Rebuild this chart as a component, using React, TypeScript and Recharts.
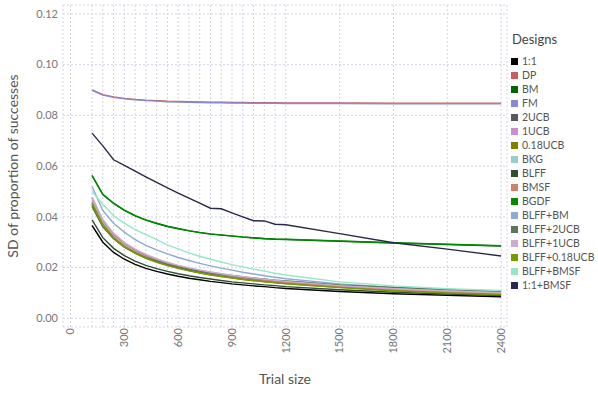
import React from 'react';
import { LineChart, Line, XAxis, YAxis, CartesianGrid, Legend } from 'recharts';

const FONT = 'Lato, "Open Sans", sans-serif';

const TRIAL_SIZES = [120, 180, 240, 300, 360, 420, 480, 540, 600, 660, 720, 780, 840, 900, 960, 1020, 1080, 1140, 1200, 1500, 1800, 2100, 2400];
const X_TICKS = [0, ...TRIAL_SIZES];
const X_LABELED = [0, 300, 600, 900, 1200, 1500, 1800, 2100, 2400];
const Y_TICKS = [0, 0.02, 0.04, 0.06, 0.08, 0.1, 0.12];

const SD_1_1 = [0.0366, 0.0300, 0.0260, 0.0233, 0.0213, 0.0197, 0.0185, 0.0175, 0.0166, 0.0158, 0.0152, 0.0146, 0.0141, 0.0136, 0.0132, 0.0128, 0.0125, 0.0121, 0.0118, 0.0106, 0.0097, 0.0091, 0.0085];
const SD_DP = [0.0900, 0.0882, 0.0873, 0.0867, 0.0863, 0.0860, 0.0858, 0.0856, 0.0855, 0.0854, 0.0853, 0.0852, 0.0852, 0.0851, 0.0851, 0.0850, 0.0850, 0.0850, 0.0849, 0.0849, 0.0848, 0.0848, 0.0848];
const SD_BM = [0.0562, 0.0488, 0.0453, 0.0426, 0.0404, 0.0387, 0.0374, 0.0362, 0.0353, 0.0345, 0.0338, 0.0332, 0.0328, 0.0324, 0.0320, 0.0317, 0.0314, 0.0312, 0.0311, 0.0304, 0.0297, 0.0291, 0.0285];
const SD_FM = [0.0899, 0.0880, 0.0871, 0.0865, 0.0861, 0.0858, 0.0856, 0.0854, 0.0853, 0.0852, 0.0851, 0.0850, 0.0850, 0.0849, 0.0849, 0.0848, 0.0848, 0.0848, 0.0847, 0.0847, 0.0846, 0.0846, 0.0846];
const SD_2UCB = [0.0445, 0.0363, 0.0315, 0.0281, 0.0257, 0.0238, 0.0223, 0.0210, 0.0199, 0.0190, 0.0182, 0.0175, 0.0168, 0.0162, 0.0157, 0.0153, 0.0148, 0.0144, 0.0141, 0.0126, 0.0115, 0.0106, 0.0100];
const SD_1UCB = [0.0462, 0.0377, 0.0326, 0.0291, 0.0265, 0.0246, 0.0230, 0.0216, 0.0205, 0.0195, 0.0187, 0.0179, 0.0173, 0.0167, 0.0161, 0.0157, 0.0152, 0.0148, 0.0144, 0.0129, 0.0117, 0.0108, 0.0101];
const SD_018UCB = [0.0455, 0.0370, 0.0319, 0.0284, 0.0258, 0.0239, 0.0223, 0.0209, 0.0198, 0.0188, 0.0180, 0.0172, 0.0166, 0.0160, 0.0154, 0.0150, 0.0145, 0.0141, 0.0137, 0.0122, 0.0110, 0.0101, 0.0094];
const SD_BKG = [0.0468, 0.0382, 0.0330, 0.0295, 0.0269, 0.0249, 0.0233, 0.0220, 0.0208, 0.0198, 0.0190, 0.0182, 0.0176, 0.0170, 0.0164, 0.0159, 0.0155, 0.0150, 0.0147, 0.0131, 0.0119, 0.0110, 0.0103];
const SD_BLFF = [0.0388, 0.0318, 0.0276, 0.0247, 0.0226, 0.0209, 0.0196, 0.0185, 0.0176, 0.0168, 0.0161, 0.0155, 0.0149, 0.0144, 0.0140, 0.0136, 0.0132, 0.0129, 0.0125, 0.0113, 0.0103, 0.0096, 0.0090];
const SD_BMSF = [0.0475, 0.0386, 0.0332, 0.0296, 0.0269, 0.0248, 0.0232, 0.0218, 0.0206, 0.0196, 0.0187, 0.0179, 0.0172, 0.0166, 0.0160, 0.0155, 0.0150, 0.0146, 0.0142, 0.0126, 0.0114, 0.0104, 0.0097];
const SD_BGDF = [0.0564, 0.0489, 0.0454, 0.0427, 0.0405, 0.0388, 0.0375, 0.0363, 0.0354, 0.0346, 0.0339, 0.0333, 0.0329, 0.0325, 0.0321, 0.0318, 0.0315, 0.0313, 0.0312, 0.0305, 0.0298, 0.0292, 0.0286];
const SD_BLFF_BM = [0.0520, 0.0425, 0.0375, 0.0340, 0.0310, 0.0288, 0.0270, 0.0254, 0.0240, 0.0228, 0.0217, 0.0207, 0.0198, 0.0190, 0.0182, 0.0175, 0.0168, 0.0162, 0.0156, 0.0136, 0.0122, 0.0112, 0.0104];
const SD_BLFF_2UCB = [0.0440, 0.0361, 0.0314, 0.0282, 0.0259, 0.0240, 0.0226, 0.0213, 0.0203, 0.0194, 0.0186, 0.0179, 0.0173, 0.0168, 0.0163, 0.0158, 0.0154, 0.0150, 0.0147, 0.0132, 0.0122, 0.0114, 0.0107];
const SD_BLFF_1UCB = [0.0478, 0.0389, 0.0336, 0.0299, 0.0273, 0.0252, 0.0235, 0.0221, 0.0209, 0.0199, 0.0190, 0.0183, 0.0176, 0.0169, 0.0164, 0.0159, 0.0154, 0.0150, 0.0146, 0.0129, 0.0117, 0.0108, 0.0101];
const SD_BLFF_018UCB = [0.0452, 0.0367, 0.0317, 0.0282, 0.0257, 0.0237, 0.0221, 0.0208, 0.0197, 0.0187, 0.0179, 0.0171, 0.0165, 0.0159, 0.0153, 0.0148, 0.0144, 0.0140, 0.0136, 0.0121, 0.0109, 0.0100, 0.0093];
const SD_BLFF_BMSF = [0.0500, 0.0450, 0.0405, 0.0375, 0.0350, 0.0330, 0.0310, 0.0290, 0.0274, 0.0258, 0.0245, 0.0233, 0.0222, 0.0212, 0.0203, 0.0194, 0.0186, 0.0178, 0.0171, 0.0144, 0.0128, 0.0117, 0.0110];
const SD_1_1_BMSF = [0.0730, 0.0680, 0.0625, 0.0603, 0.0580, 0.0558, 0.0536, 0.0514, 0.0494, 0.0474, 0.0454, 0.0434, 0.0432, 0.0416, 0.0400, 0.0385, 0.0384, 0.0371, 0.0369, 0.0334, 0.0298, 0.0273, 0.0246];

const SERIES = [
  { name: '1:1', color: '#000000', values: SD_1_1 },
  { name: 'DP', color: '#cd5c5c', values: SD_DP },
  { name: 'BM', color: '#006400', values: SD_BM },
  { name: 'FM', color: '#8a8ad2', values: SD_FM },
  { name: '2UCB', color: '#595959', values: SD_2UCB },
  { name: '1UCB', color: '#cd8bd0', values: SD_1UCB },
  { name: '0.18UCB', color: '#808000', values: SD_018UCB },
  { name: 'BKG', color: '#96cdcd', values: SD_BKG },
  { name: 'BLFF', color: '#2f4f2f', values: SD_BLFF },
  { name: 'BMSF', color: '#d0806a', values: SD_BMSF },
  { name: 'BGDF', color: '#008b00', values: SD_BGDF },
  { name: 'BLFF+BM', color: '#8eaad3', values: SD_BLFF_BM },
  { name: 'BLFF+2UCB', color: '#587858', values: SD_BLFF_2UCB },
  { name: 'BLFF+1UCB', color: '#cdaad0', values: SD_BLFF_1UCB },
  { name: 'BLFF+0.18UCB', color: '#7a9a01', values: SD_BLFF_018UCB },
  { name: 'BLFF+BMSF', color: '#98e6c8', values: SD_BLFF_BMSF },
  { name: '1:1+BMSF', color: '#27284a', values: SD_1_1_BMSF },
];

const data = TRIAL_SIZES.map((n, i) => {
  const row: Record<string, number> = { n };
  SERIES.forEach((s, j) => {
    row['s' + j] = s.values[i];
  });
  return row;
});

const XTick = (props: any) => {
  const { x, y, payload } = props;
  if (!X_LABELED.includes(payload.value)) return <g />;
  return (
    <text
      x={x}
      y={y}
      transform={`rotate(-90 ${x} ${y})`}
      textAnchor="end"
      dy="0.35em"
      fontSize={11}
      fill="#777"
      fontFamily={FONT}
    >
      {payload.value}
    </text>
  );
};

const YTick = (props: any) => {
  const { x, y, payload } = props;
  return (
    <text x={x} y={y} textAnchor="end" dy="0.35em" fontSize={11} fill="#777" fontFamily={FONT}>
      {Number(payload.value).toFixed(2)}
    </text>
  );
};

const YTitle = (props: any) => {
  const vb = props.viewBox || { x: 0, y: 5, width: 63, height: 322 };
  const cx = vb.x + 13;
  const cy = vb.y + vb.height / 2;
  return (
    <text
      x={cx}
      y={cy}
      transform={`rotate(-90 ${cx} ${cy})`}
      textAnchor="middle"
      dy="0.35em"
      fontSize={14}
      fill="#555"
      fontFamily={FONT}
    >
      SD of proportion of successes
    </text>
  );
};

const XTitle = (props: any) => {
  const vb = props.viewBox || { x: 63, y: 327, width: 444, height: 72 };
  return (
    <text
      x={vb.x + vb.width / 2}
      y={vb.y + 57}
      textAnchor="middle"
      fontSize={14}
      fill="#555"
      fontFamily={FONT}
    >
      Trial size
    </text>
  );
};

const LegendBox = () => (
  <div style={{ fontFamily: FONT }}>
    <div style={{ fontSize: 13, lineHeight: '16px', color: '#444', paddingLeft: 1, marginBottom: 7 }}>Designs</div>
    {SERIES.map((s) => (
      <div
        key={s.name}
        style={{ display: 'flex', alignItems: 'center', height: 14, fontSize: 10.5, color: '#555', whiteSpace: 'nowrap' }}
      >
        <span style={{ display: 'inline-block', width: 7, height: 7, background: s.color, marginRight: 4 }} />
        <span>{s.name}</span>
      </div>
    ))}
  </div>
);

export default function App() {
  return (
    <div style={{ position: 'absolute', left: 0, top: 0, width: 598, height: 399, background: '#fff' }}>
      <LineChart width={598} height={399} data={data} margin={{ top: 5, right: 91, bottom: 0, left: 0 }}>
        <CartesianGrid stroke="#d3d3e6" strokeDasharray="2 2" strokeWidth={1} />
        <XAxis
          dataKey="n"
          type="number"
          domain={[-42, 2433]}
          ticks={X_TICKS}
          interval={0}
          allowDataOverflow
          axisLine={false}
          tickLine={false}
          tickSize={0}
          tickMargin={1}
          height={72}
          tick={<XTick />}
          label={<XTitle />}
        />
        <YAxis
          type="number"
          domain={[-0.0034, 0.1235]}
          ticks={Y_TICKS}
          interval={0}
          allowDataOverflow
          axisLine={false}
          tickLine={false}
          tickSize={0}
          tickMargin={5}
          width={63}
          tick={<YTick />}
          label={<YTitle />}
        />
        <Legend
          layout="vertical"
          align="center"
          verticalAlign="middle"
          wrapperStyle={{ left: 511, top: 31, width: 87 }}
          content={() => <LegendBox />}
        />
        {SERIES.map((s, j) => (
          <Line
            key={s.name}
            type="linear"
            dataKey={'s' + j}
            name={s.name}
            stroke={s.color}
            strokeWidth={1.4}
            dot={false}
            activeDot={false}
            isAnimationActive={false}
          />
        ))}
      </LineChart>
    </div>
  );
}
